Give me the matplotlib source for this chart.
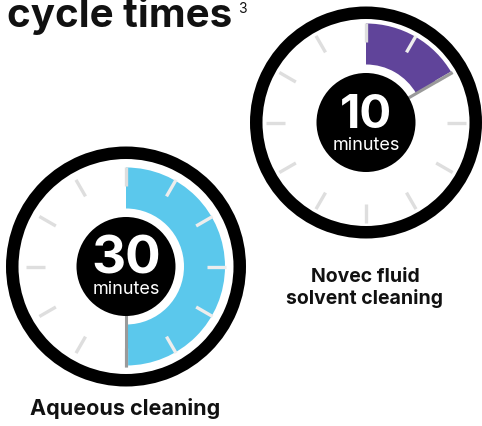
import numpy as np
import matplotlib
matplotlib.use("Agg")
import matplotlib.pyplot as plt
from matplotlib.patches import Wedge, Circle

# data
labels = ["Aqueous cleaning", "Novec fluid\nsolvent cleaning"]
minutes = [30, 10]
colors = ["#5BC8EC", "#60449A"]

W, H = 482, 427
# dial layout (pixel coords, y from top)
centers = [(126, 267.5), (366, 123.5)]
ring_r = [120, 116]
num_size = [38, 34]
num_off = [5.5, 4.5]
label_pos = [(125, 415), (365, 304)]
label_size = [15.5, 14]

plt.rcParams["font.family"] = ["Inter", "DejaVu Sans"]

fig = plt.figure(figsize=(W / 100, H / 100), dpi=100)
ax = fig.add_axes([0, 0, 1, 1])
ax.set_xlim(0, W)
ax.set_ylim(0, H)
ax.axis("off")


def draw_dial(cx, cy, r_out, mins, color, nsize, noff):
    y = H - cy
    ax.add_patch(Circle((cx, y), r_out, facecolor="white", edgecolor="none"))
    ax.add_patch(Wedge((cx, y), r_out, 0, 360, width=12.5, facecolor="black",
                       edgecolor="none"))
    sweep = mins * 6
    ax.add_patch(Wedge((cx, y), 99, 90 - sweep, 90, width=41,
                       facecolor=color, edgecolor="none"))
    for k in range(12):
        a = np.deg2rad(90 - 30 * k)
        inside = 0 < 30 * k < sweep
        ax.plot([cx + 81 * np.cos(a), cx + 100 * np.cos(a)],
                [y + 81 * np.sin(a), y + 100 * np.sin(a)],
                color="#EDEDED" if inside else "#DEDEDE",
                lw=2.4, solid_capstyle="butt", zorder=3)
    a = np.deg2rad(90 - sweep)
    ax.plot([cx + 48 * np.cos(a), cx + 100 * np.cos(a)],
            [y + 48 * np.sin(a), y + 100 * np.sin(a)],
            color="#9A9A9A", lw=2.2, solid_capstyle="butt", zorder=4)
    ax.add_patch(Circle((cx, y), 49.5, facecolor="black", edgecolor="none",
                        zorder=5))
    ax.text(cx, y - noff, str(mins), color="white", fontsize=nsize,
            fontweight="bold", ha="center", va="baseline", zorder=6)
    ax.text(cx, y - 26, "minutes", color="white", fontsize=13,
            ha="center", va="baseline", zorder=6)


for (cx, cy), r, m, c, ns, no in zip(centers, ring_r, minutes, colors,
                                     num_size, num_off):
    draw_dial(cx, cy, r, m, c, ns, no)

for (lx, ly), lab, ls in zip(label_pos, labels, label_size):
    ax.text(lx, H - ly, lab, fontsize=ls, fontweight="bold", color="#111111",
            ha="center", va="baseline", linespacing=1.2)

ax.text(7, H - 27, "cycle times", fontsize=29, fontweight="bold",
        color="#111111", ha="left", va="baseline")
ax.text(238, H - 13, "3", fontsize=10, color="#111111", ha="left",
        va="baseline")

fig.savefig("out.png", dpi=100)
